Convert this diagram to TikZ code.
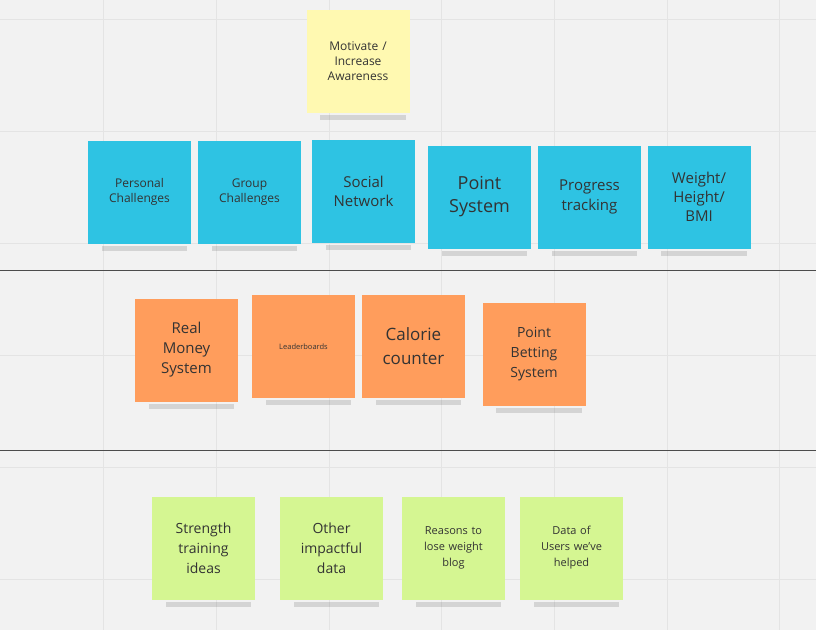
\documentclass[tikz,border=0pt]{standalone}
\usepackage{fontspec}
\setmainfont{Open Sans}
\usetikzlibrary{positioning}
\definecolor{boardbg}{HTML}{F2F2F2}
\definecolor{gridln}{HTML}{E4E4E4}
\definecolor{noteyellow}{HTML}{FFF9B1}
\definecolor{noteblue}{HTML}{2EC3E3}
\definecolor{noteorange}{HTML}{FF9D5C}
\definecolor{notegreen}{HTML}{D5F692}
\definecolor{notetext}{HTML}{333333}
\tikzset{
  note/.style={minimum width=103pt,minimum height=103pt,inner sep=2pt,
    align=center,text=notetext,text width=96pt,font=\fontsize{12}{15}\selectfont},
  yellownote/.style={note,fill=noteyellow},
  bluenote/.style={note,fill=noteblue},
  orangenote/.style={note,fill=noteorange},
  greennote/.style={note,fill=notegreen},
  divider/.style={draw=black!70,line width=1pt}
}
\newcommand{\noteshadow}[1]{\fill[black,opacity=0.12] ([xshift=14pt,yshift=-2pt]#1.south west) rectangle ([xshift=-4pt,yshift=-7pt]#1.south east);}
\begin{document}
\begin{tikzpicture}[x=1pt,y=-1pt]
    \fill[boardbg] (0,0) rectangle (816,630);
    \useasboundingbox (0,0) rectangle (816,630);
    % grid
    \foreach \gx in {103,216,329,441,554,667,779}
        \draw[gridln] (\gx,0) -- (\gx,630);
    \foreach \gy in {19,131,243,355,467,579}
        \draw[gridln] (0,\gy) -- (816,\gy);
    % dividers
    \coordinate (d1l) at (0,270); \coordinate (d1r) at (816,270);
    \coordinate (d2l) at (0,450); \coordinate (d2r) at (816,450);
    \draw[divider] (d1l) -- (d1r);
    \draw[divider] (d2l) -- (d2r);
    % top
    \node[yellownote] (motivate) at (358,61) {Motivate /\\ Increase\\ Awareness};
    % blue row
    \node[bluenote] (personal) at (139.5,192) {Personal\\ Challenges};
    \node[bluenote] (group) at (249.5,192) {Group\\ Challenges};
    \node[bluenote,font=\fontsize{15}{19}\selectfont] (social) at (363.5,191.5) {Social\\ Network};
    \node[bluenote,font=\fontsize{18}{23}\selectfont] (points) at (479.5,197) {Point\\ System};
    \node[bluenote,font=\fontsize{15}{20}\selectfont] (progress) at (589.5,197) {Progress\\ tracking};
    \node[bluenote,font=\fontsize{15}{19}\selectfont] (weight) at (699,197) {Weight/\\ Height/\\ BMI};
    % orange row
    \node[orangenote,font=\fontsize{15}{20}\selectfont] (money) at (186.5,350) {Real\\ Money\\ System};
    \node[orangenote,font=\fontsize{7.5}{9}\selectfont] (leaders) at (303.5,346.5) {Leaderboards};
    \node[orangenote,font=\fontsize{17}{24}\selectfont] (calorie) at (413.5,346.5) {Calorie\\ counter};
    \node[orangenote,font=\fontsize{14}{20}\selectfont] (betting) at (534,354.5) {Point\\ Betting\\ System};
    % green row
    \node[greennote,font=\fontsize{14}{20}\selectfont] (strength) at (203.5,548.5) {Strength\\ training\\ ideas};
    \node[greennote,font=\fontsize{14}{20}\selectfont] (other) at (331.5,548.5) {Other\\ impactful\\ data};
    \node[greennote,font=\fontsize{11}{16}\selectfont] (reasons) at (453.5,548) {Reasons to\\ lose weight\\ blog};
    \node[greennote,font=\fontsize{11}{16}\selectfont] (users) at (571.5,548) {Data of\\ Users we've\\ helped};
    % shadows
    \foreach \n in {motivate,personal,group,social,points,progress,weight,money,leaders,calorie,betting,strength,other,reasons,users}
        {\noteshadow{\n}}
\end{tikzpicture}
\end{document}
